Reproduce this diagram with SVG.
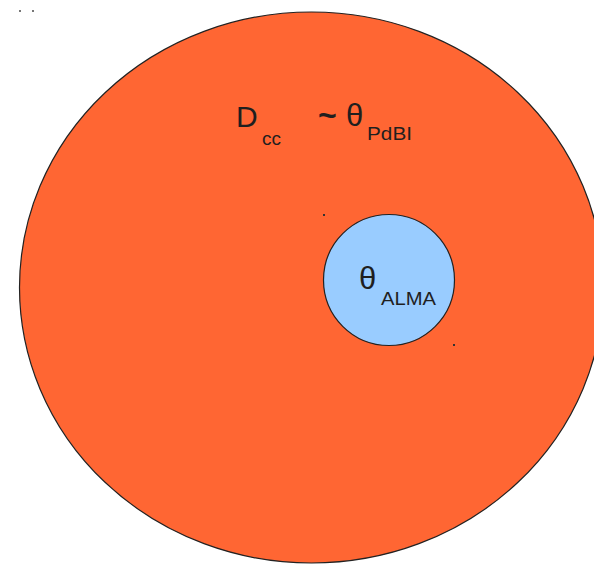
<svg xmlns="http://www.w3.org/2000/svg" width="594" height="564" viewBox="0 0 594 564">
<style>
.t{font-family:"Liberation Sans",Arial,sans-serif;fill:#1f1f1f}
.dot{fill:#333}
</style>
<rect width="594" height="564" fill="#fff"/>
<g id="outer">
<ellipse cx="311.5" cy="287.5" rx="292" ry="275.5" fill="#FF6633" stroke="#222" stroke-width="1.2"/>
<text class="t" x="236" y="127" font-size="30">D</text>
<text class="t" x="262" y="145" font-size="19">cc</text>
<text class="t" x="318" y="126" font-size="32" font-weight="bold">~</text>
<text class="t" x="346" y="126" font-size="31">θ</text>
<text class="t" x="367" y="140" font-size="18" textLength="45" lengthAdjust="spacingAndGlyphs">PdBI</text>
</g>
<g id="inner">
<circle cx="389" cy="280" r="65.5" fill="#99CCFF" stroke="#222" stroke-width="1.2"/>
<text class="t" x="359" y="289" font-size="31">θ</text>
<text class="t" x="381" y="305" font-size="18" textLength="55" lengthAdjust="spacingAndGlyphs">ALMA</text>
</g>
<g id="marks">
<rect class="dot" x="323" y="214" width="2" height="2"/>
<rect class="dot" x="453" y="344" width="2" height="2"/>
<rect x="19" y="10" width="2" height="2" fill="#777"/>
<rect x="32" y="10" width="2" height="2" fill="#777"/>
</g>
</svg>
